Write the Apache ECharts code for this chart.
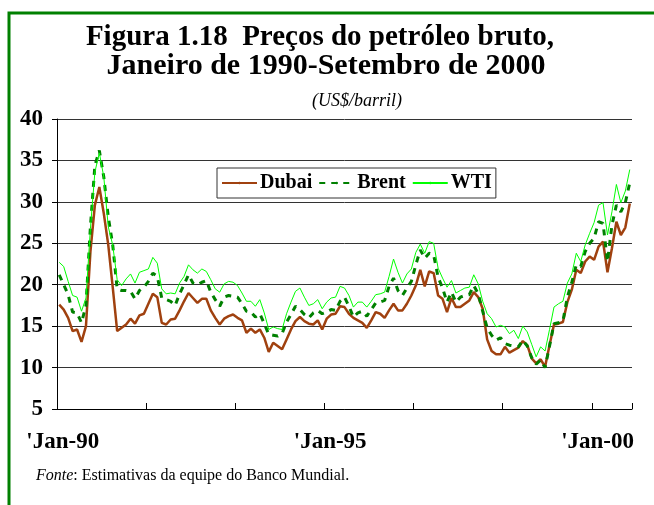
<!DOCTYPE html>
<html>
<head>
<meta charset="utf-8">
<script src="https://cdn.jsdelivr.net/npm/echarts@6/dist/echarts.min.js"></script>
<style>
  html, body { margin: 0; padding: 0; background: #fff; }
  #chart { width: 654px; height: 505px; }
</style>
</head>
<body>
<div id="chart"></div>
<script>
// monthly categories Jan-1990 .. Sep-2000
const months = ['Jan', 'Feb', 'Mar', 'Apr', 'May', 'Jun', 'Jul', 'Aug', 'Sep', 'Oct', 'Nov', 'Dec']
const years = ['90', '91', '92', '93', '94', '95', '96', '97', '98', '99', '00']
const categories = []
years.forEach((y, yi) => {
  months.forEach((m, mi) => {
    if (yi === years.length - 1 && mi > 8) return
    categories.push("'" + m + '-' + y)
  })
})

// US$/barril
const dubai = [
  17.6, 17.0, 16.0, 14.4, 14.6, 13.1, 15.0, 24.0, 29.6, 31.8, 28.6, 24.8,
  19.7, 14.4, 14.8, 15.2, 15.9, 15.3, 16.3, 16.5, 17.7, 18.9, 18.5, 15.4,
  15.2, 15.8, 15.9, 16.9, 18.0, 19.0, 18.4, 17.8, 18.3, 18.3, 16.9, 16.0,
  15.2, 15.9, 16.2, 16.4, 16.0, 15.7, 14.2, 14.7, 14.2, 14.6, 13.6, 11.9,
  13.0, 12.6, 12.2, 13.4, 14.6, 15.6, 16.1, 15.6, 15.3, 15.2, 15.7, 14.6,
  15.9, 16.4, 16.5, 17.4, 17.3, 16.5, 16.0, 15.7, 15.4, 14.8, 15.7, 16.7,
  16.5, 16.0, 16.9, 17.7, 16.9, 16.9, 17.7, 18.7, 19.9, 21.8, 19.8, 21.6,
  21.4, 18.7, 18.3, 16.7, 18.4, 17.3, 17.3, 17.7, 18.1, 19.1, 18.5, 17.1,
  13.4, 12.0, 11.6, 11.6, 12.5, 11.8, 12.1, 12.4, 13.2, 12.7, 11.1, 10.5,
  11.0, 10.1, 12.7, 15.2, 15.3, 15.5, 17.9, 19.4, 21.8, 21.4, 22.8, 23.4,
  23.0, 24.6, 25.2, 21.5, 24.4, 27.6, 26.0, 26.9, 29.8
]
const brent = [
  21.2, 20.0, 18.8, 16.7, 16.6, 15.4, 17.5, 27.0, 34.4, 36.2, 33.0, 28.2,
  24.8, 19.5, 19.3, 19.3, 19.2, 18.3, 19.3, 19.7, 20.4, 21.4, 21.0, 18.4,
  18.2, 18.0, 17.5, 18.9, 20.0, 21.2, 20.2, 20.0, 20.3, 20.5, 19.1, 18.2,
  17.4, 18.5, 18.7, 18.6, 18.5, 17.7, 16.8, 16.7, 16.1, 16.5, 15.3, 14.0,
  13.9, 13.8, 14.1, 15.5, 16.4, 17.4, 17.0, 16.4, 16.0, 16.6, 16.9, 16.5,
  16.7, 17.0, 16.9, 18.0, 18.5, 17.4, 16.1, 16.6, 16.8, 16.2, 17.0, 17.8,
  17.9, 18.1, 19.8, 20.8, 19.3, 18.7, 19.6, 20.4, 22.4, 24.2, 23.2, 23.8,
  23.6, 20.9, 19.6, 17.9, 19.1, 17.9, 18.5, 18.7, 18.8, 19.9, 18.9, 16.8,
  14.8, 13.9, 13.3, 13.6, 12.9, 12.7, 12.6, 12.5, 13.3, 12.6, 11.2, 10.4,
  10.9, 10.0, 12.6, 15.3, 15.4, 15.6, 18.5, 20.3, 22.4, 22.2, 24.0, 25.0,
  25.6, 27.6, 27.4, 22.8, 27.2, 29.6, 28.8, 29.9, 32.3
]
const wti = [
  22.7, 22.2, 20.4, 18.7, 18.5, 16.8, 18.4, 26.8, 33.6, 35.9, 33.0, 27.0,
  24.8, 20.6, 19.9, 20.7, 21.3, 20.2, 21.5, 21.7, 21.9, 23.3, 22.6, 19.5,
  18.9, 19.0, 18.9, 20.2, 21.0, 22.4, 21.8, 21.4, 21.9, 21.6, 20.6, 19.5,
  19.1, 20.1, 20.4, 20.3, 19.9, 19.0, 18.0, 18.0, 17.4, 18.2, 16.6, 14.6,
  14.9, 14.7, 14.6, 16.5, 17.9, 19.2, 19.6, 18.5, 17.5, 17.7, 18.2, 17.1,
  17.9, 18.4, 18.5, 19.8, 19.6, 18.7, 17.3, 17.9, 17.9, 17.3, 18.0, 18.8,
  18.9, 19.1, 21.0, 23.1, 21.5, 20.2, 21.3, 21.9, 23.9, 24.9, 23.8, 25.2,
  25.0, 22.0, 20.8, 19.7, 20.5, 19.0, 19.3, 19.6, 19.7, 21.2, 20.1, 18.0,
  16.5, 15.9, 14.9, 15.1, 14.9, 14.1, 14.5, 13.5, 15.0, 14.3, 12.8, 11.3,
  12.5, 12.0, 14.6, 17.3, 17.7, 18.0, 20.2, 21.3, 23.8, 22.8, 24.8, 26.2,
  27.5, 29.6, 29.9, 26.0, 28.8, 32.1, 29.9, 31.3, 33.9
]

const serif = '"Liberation Serif", "Times New Roman", serif'

let mycharts = echarts.init(document.getElementById('chart'))
mycharts.setOption({
  animation: false,
  backgroundColor: '#fff',
  title: [
    {
      text: 'Figura 1.18  Preços do petróleo bruto,',
      left: 320,
      top: 23,
      textAlign: 'center',
      padding: 0,
      textStyle: { fontFamily: serif, fontWeight: 'bold', fontSize: 29, color: '#000' },
    },
    {
      text: 'Janeiro de 1990-Setembro de 2000',
      left: 326,
      top: 51,
      textAlign: 'center',
      padding: 0,
      textStyle: { fontFamily: serif, fontWeight: 'bold', fontSize: 30, color: '#000' },
    },
    {
      text: '(US$/barril)',
      left: 357,
      top: 92,
      textAlign: 'center',
      padding: 0,
      textStyle: { fontFamily: serif, fontStyle: 'italic', fontWeight: 'normal', fontSize: 18, color: '#000' },
    },
  ],
  legend: {
    left: 217,
    top: 168,
    orient: 'horizontal',
    padding: [5, 4, 5, 4],
    itemGap: 6,
    itemWidth: 35,
    itemHeight: 3,
    borderColor: '#333',
    borderWidth: 1,
    backgroundColor: '#fff',
    textStyle: { fontFamily: serif, fontWeight: 'bold', fontSize: 20, color: '#000', padding: [0, 0, 0, -2] },
    data: ['Dubai', 'Brent', 'WTI'],
  },
  grid: {
    left: 57,
    right: 22,
    top: 119,
    bottom: 96,
  },
  xAxis: {
    type: 'category',
    boundaryGap: true,
    data: categories,
    axisLine: { show: true, lineStyle: { color: '#000', width: 1 } },
    axisTick: { show: true, inside: true, length: 6, interval: 19, lineStyle: { color: '#000' } },
    axisLabel: {
      interval: 59,
      margin: 22,
      padding: [0, 0, 0, 7],
      fontFamily: serif,
      fontWeight: 'bold',
      fontSize: 23,
      color: '#000',
    },
    splitLine: { show: false },
  },
  yAxis: {
    type: 'value',
    min: 5,
    max: 40,
    interval: 5,
    axisLine: { show: true, lineStyle: { color: '#000', width: 1 } },
    axisTick: { show: true, length: 5, lineStyle: { color: '#000' } },
    axisLabel: { margin: 14, fontFamily: serif, fontWeight: 'bold', fontSize: 23, color: '#000' },
    splitLine: { show: true, lineStyle: { color: '#333', width: 1 } },
  },
  series: [
    {
      name: 'Dubai',
      type: 'line',
      data: dubai,
      symbol: 'none',
      color: '#A0410F',
      lineStyle: { color: '#A0410F', width: 2.5 },
    },
    {
      name: 'Brent',
      type: 'line',
      data: brent,
      symbol: 'none',
      color: '#008000',
      lineStyle: { color: '#008000', width: 3, type: [6, 6] },
    },
    {
      name: 'WTI',
      type: 'line',
      data: wti,
      symbol: 'none',
      color: '#00FF00',
      lineStyle: { color: '#00FF00', width: 1 },
    },
  ],
  graphic: [
    {
      type: 'rect',
      silent: true,
      shape: { x: 9, y: 13, width: 800, height: 700 },
      style: { fill: 'none', stroke: '#008000', lineWidth: 3 },
    },
    {
      type: 'text',
      left: 36,
      top: 468,
      style: {
        text: '{i|Fonte}: Estimativas da equipe do Banco Mundial.',
        font: '16px ' + serif,
        fill: '#000',
        rich: {
          i: { fontFamily: serif, fontStyle: 'italic', fontSize: 16, fill: '#000' },
        },
      },
    },
  ],
})
</script>
</body>
</html>
